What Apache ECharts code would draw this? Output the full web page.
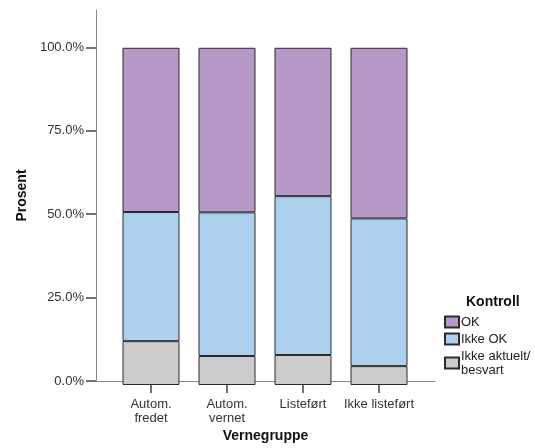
<!DOCTYPE html>
<html>
<head>
<meta charset="utf-8">
<script src="https://cdn.jsdelivr.net/npm/echarts@6/dist/echarts.min.js"></script>
<style>
  html, body { margin: 0; padding: 0; background: #fff; }
  #chart { width: 535px; height: 448px; }
</style>
</head>
<body>
<div id="chart"></div>
<script>
// Categories along the x axis (Vernegruppe)
var categories = ['Autom.\nfredet', 'Autom.\nvernet', 'Listeført', 'Ikke listeført'];

// Percent shares per category, stacked bottom to top
var ikkeAktuelt = [13.0, 8.6, 8.9, 5.6];
var ikkeOk = [38.3, 42.6, 47.1, 43.8];
var ok = [48.7, 48.8, 44.0, 50.6];

// Y axis tick values (percent)
var yTicks = [0, 25, 50, 75, 100];

var seriesNames = ['OK', 'Ikke OK', 'Ikke aktuelt/\nbesvart'];
var colors = { ok: '#b799c8', ikkeOk: '#acd0ee', ikkeAktuelt: '#cccccc' };

var fontFamily = '"Liberation Sans", Arial, sans-serif';
var yMax = 111.2;
var barStyle = function (color) {
  return { color: color, borderColor: '#2b2b2b', borderWidth: 1 };
};

var chart = echarts.init(document.getElementById('chart'), null, { renderer: 'canvas' });
chart.setOption({
  animation: false,
  textStyle: { fontFamily: fontFamily },
  title: {
    text: 'Kontroll',
    left: 466,
    top: 295,
    padding: 0,
    textStyle: { fontSize: 14, fontWeight: 'bold', color: '#111', fontFamily: fontFamily }
  },
  legend: {
    orient: 'vertical',
    left: 444,
    top: 315,
    padding: 0,
    itemWidth: 14,
    itemHeight: 11,
    itemGap: 3,
    icon: 'rect',
    data: seriesNames,
    textStyle: { fontSize: 13, lineHeight: 14, color: '#222', padding: [0, 0, 0, -3] }
  },
  // grid 0 holds the bars; grid 1 carries the full-width axis frame
  grid: [
    { left: 113, right: 118, top: 10, bottom: 63, containLabel: false },
    { left: 96, right: 100, top: 10, bottom: 63, containLabel: false }
  ],
  xAxis: [
    {
      type: 'category',
      gridIndex: 0,
      data: categories,
      axisLine: { show: false },
      axisTick: { show: true, alignWithLabel: true, length: 8, lineStyle: { color: '#444', width: 1.5 } },
      axisLabel: { margin: 12, fontSize: 13, lineHeight: 14, color: '#333', interval: 0 },
      splitLine: { show: false }
    },
    {
      type: 'value',
      gridIndex: 1,
      min: 0,
      max: 1,
      name: 'Vernegruppe',
      nameLocation: 'middle',
      nameGap: 48,
      nameTextStyle: { fontSize: 14, fontWeight: 'bold', color: '#111' },
      axisLine: { show: true, onZero: false, lineStyle: { color: '#8a8a8a', width: 1 } },
      axisTick: { show: false },
      axisLabel: { show: false },
      splitLine: { show: false }
    }
  ],
  yAxis: [
    {
      type: 'value',
      gridIndex: 0,
      min: 0,
      max: yMax,
      show: false
    },
    {
      type: 'value',
      gridIndex: 1,
      min: 0,
      max: yMax,
      name: 'Prosent',
      nameLocation: 'middle',
      nameGap: 66,
      nameTextStyle: { fontSize: 14, fontWeight: 'bold', color: '#111' },
      splitLine: { show: false },
      axisLine: { show: true, onZero: false, lineStyle: { color: '#8a8a8a', width: 1 } },
      axisTick: { show: true, length: 10, customValues: yTicks, lineStyle: { color: '#444', width: 1.5 } },
      axisLabel: {
        customValues: yTicks,
        margin: 12,
        fontSize: 13,
        color: '#333',
        formatter: function (v) { return v.toFixed(1) + '%'; }
      }
    }
  ],
  series: [
    { name: seriesNames[2], type: 'bar', stack: 'total', barWidth: 57, xAxisIndex: 0, yAxisIndex: 0, data: ikkeAktuelt, itemStyle: barStyle(colors.ikkeAktuelt) },
    { name: seriesNames[1], type: 'bar', stack: 'total', barWidth: 57, xAxisIndex: 0, yAxisIndex: 0, data: ikkeOk, itemStyle: barStyle(colors.ikkeOk) },
    { name: seriesNames[0], type: 'bar', stack: 'total', barWidth: 57, xAxisIndex: 0, yAxisIndex: 0, data: ok, itemStyle: barStyle(colors.ok) }
  ]
});
</script>
</body>
</html>
